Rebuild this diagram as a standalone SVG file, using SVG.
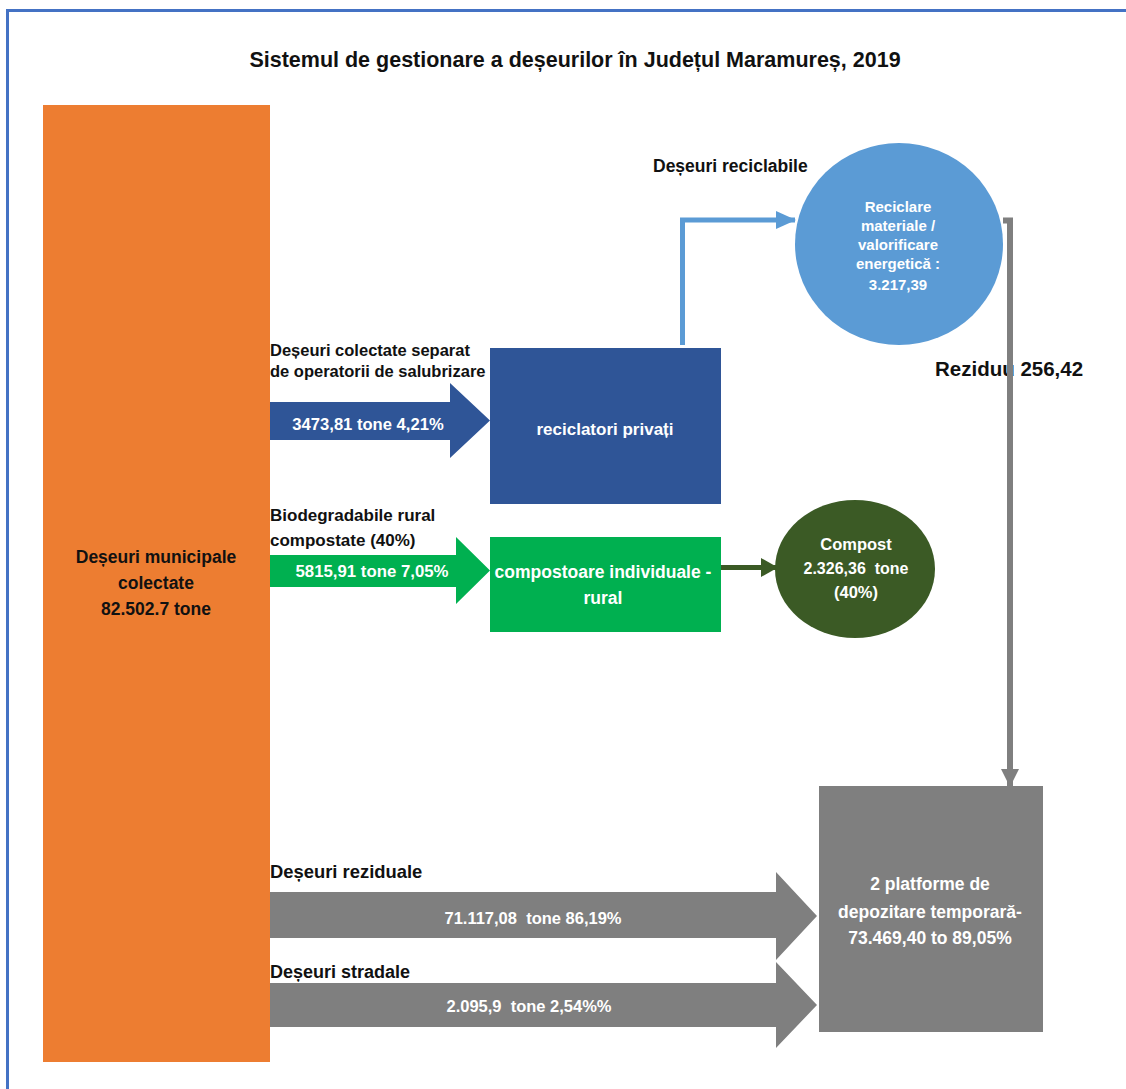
<svg xmlns="http://www.w3.org/2000/svg" width="1126" height="1089" viewBox="0 0 1126 1089">
<style>
text{font-family:"Liberation Sans",Arial,sans-serif;font-weight:bold;white-space:pre}
.lbl{fill:#111}
.wt{fill:#fff;text-anchor:middle}
.blk{fill:#111;text-anchor:middle}
</style>
<defs>
<marker id="ahBlue" viewBox="0 0 20 18" refX="19" refY="9" markerWidth="20" markerHeight="18" markerUnits="userSpaceOnUse" orient="auto"><path d="M0,0 L20,9 L0,18 Z" fill="#5B9BD5"/></marker>
<marker id="ahGreen" viewBox="0 0 17 19" refX="16" refY="9.5" markerWidth="17" markerHeight="19" markerUnits="userSpaceOnUse" orient="auto"><path d="M0,0 L17,9.5 L0,19 Z" fill="#3B5A25"/></marker>
<marker id="ahGray" viewBox="0 0 18 18" refX="17" refY="9" markerWidth="18" markerHeight="18" markerUnits="userSpaceOnUse" orient="auto"><path d="M0,0 L18,9 L0,18 Z" fill="#7F7F7F"/></marker>
</defs>
<rect width="1126" height="1089" fill="#fff"/>
<g id="frame">
<line x1="6" y1="10.5" x2="1126" y2="10.5" stroke="#4472C4" stroke-width="3"/>
<line x1="7.5" y1="10" x2="7.5" y2="1089" stroke="#4472C4" stroke-width="3"/>
</g>
<text id="title" x="575" y="67" text-anchor="middle" font-size="21.5" fill="#111">Sistemul de gestionare a deșeurilor în Județul Maramureș, 2019</text>

<g id="labels">
<text class="lbl" x="270" y="356" font-size="16.5">Deșeuri colectate separat</text>
<text class="lbl" x="270" y="377" font-size="16.5">de operatorii de salubrizare</text>
<text class="lbl" x="270" y="521" font-size="17">Biodegradabile rural</text>
<text class="lbl" x="270" y="546" font-size="17">compostate (40%)</text>
<text class="lbl" x="653" y="172" font-size="17.5">Deșeuri reciclabile</text>
<text class="lbl" x="270" y="878" font-size="18.4">Deșeuri reziduale</text>
<text class="lbl" x="270" y="978" font-size="18">Deșeuri stradale</text>
<text class="lbl" x="935" y="376" font-size="20.5">Reziduu 256,42</text>
</g>

<g id="connectors">
<polyline points="682.5,345 682.5,220 795,220" fill="none" stroke="#5B9BD5" stroke-width="5" marker-end="url(#ahBlue)"/>
<line x1="721" y1="567.5" x2="777" y2="567.5" stroke="#3B5A25" stroke-width="5" marker-end="url(#ahGreen)"/>
<polyline points="1003,220.5 1010,220.5 1010,786" fill="none" stroke="#7F7F7F" stroke-width="6" marker-end="url(#ahGray)"/>
<g id="arrow-reciclatori">
<path d="M270,402 L450,402 L450,383 L490,420.5 L450,458 L450,440 L270,440 Z" fill="#2F5597"/>
<text class="wt" x="368" y="430" font-size="16.6">3473,81 tone 4,21%</text>
</g>
<g id="arrow-compost">
<path d="M270,555 L456,555 L456,537 L490,570.5 L456,604 L456,587 L270,587 Z" fill="#00B050"/>
<text class="wt" x="372" y="577" font-size="16.8">5815,91 tone 7,05%</text>
</g>
<g id="arrow-reziduale">
<path d="M270,892 L776,892 L776,872 L817,916 L776,960 L776,938 L270,938 Z" fill="#7F7F7F"/>
<text class="wt" x="533" y="924" font-size="16.5">71.117,08  tone 86,19%</text>
</g>
<g id="arrow-stradale">
<path d="M270,983 L776,983 L776,962 L817,1005 L776,1048 L776,1027 L270,1027 Z" fill="#7F7F7F"/>
<text class="wt" x="529" y="1012" font-size="16.5">2.095,9  tone 2,54%%</text>
</g>
</g>

<g id="node-municipale">
<rect x="43" y="105" width="227" height="957" fill="#ED7D31"/>
<text class="blk" x="156" y="563" font-size="17.5">Deșeuri municipale</text>
<text class="blk" x="156" y="589" font-size="17.5">colectate</text>
<text class="blk" x="156" y="615" font-size="17.5">82.502.7 tone</text>
</g>

<g id="node-reciclatori">
<rect x="490" y="348" width="231" height="156" fill="#2F5597"/>
<text class="wt" x="605" y="435" font-size="17">reciclatori privați</text>
</g>

<g id="node-compostoare">
<rect x="490" y="537" width="231" height="95" fill="#00B050"/>
<text class="wt" x="603" y="578" font-size="17.5">compostoare individuale -</text>
<text class="wt" x="603" y="604" font-size="17.5">rural</text>
</g>

<g id="node-reciclare">
<ellipse cx="899" cy="244" rx="104" ry="101" fill="#5B9BD5"/>
<text class="wt" x="898" y="212" font-size="15">Reciclare</text>
<text class="wt" x="898" y="231" font-size="15">materiale /</text>
<text class="wt" x="898" y="250" font-size="15">valorificare</text>
<text class="wt" x="898" y="269" font-size="15">energetică :</text>
<text class="wt" x="898" y="290" font-size="15">3.217,39</text>
</g>

<g id="node-compost">
<ellipse cx="855" cy="569" rx="80" ry="69" fill="#3B5A25"/>
<text class="wt" x="856" y="550" font-size="16.5">Compost</text>
<text class="wt" x="856" y="574" font-size="16">2.326,36  tone</text>
<text class="wt" x="856" y="598" font-size="16.5">(40%)</text>
</g>

<g id="node-platforme">
<rect x="819" y="786" width="224" height="246" fill="#7F7F7F"/>
<text class="wt" x="930" y="890" font-size="17.5">2 platforme de</text>
<text class="wt" x="930" y="918" font-size="17.5">depozitare temporară-</text>
<text class="wt" x="930" y="944" font-size="17.5">73.469,40 to 89,05%</text>
</g>
</svg>
